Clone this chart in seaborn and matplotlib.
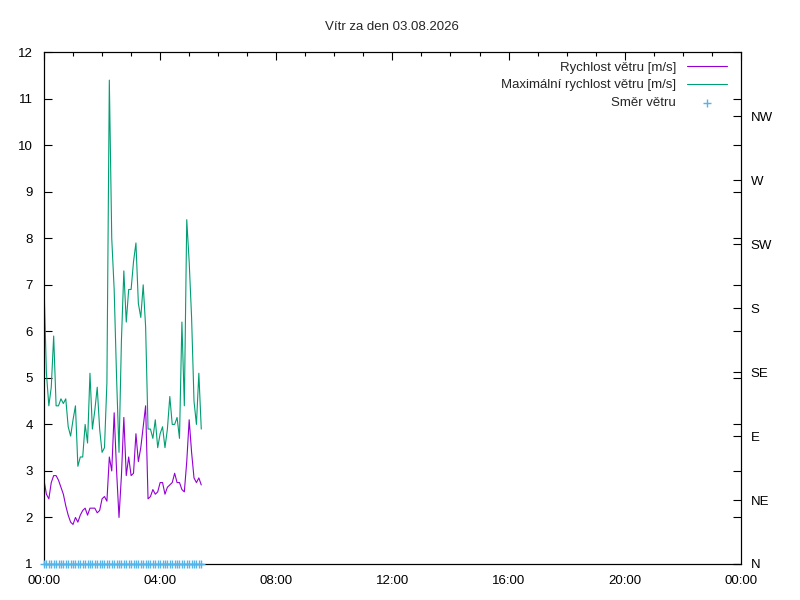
import pandas as pd
import matplotlib.pyplot as plt
import matplotlib.dates as mdates
import seaborn as sns

# 5-minute samples from midnight
times = pd.date_range("2026-08-03 00:00", periods=66, freq="5min")

speed = [2.8, 2.5, 2.4, 2.75, 2.9, 2.9, 2.8, 2.65, 2.5, 2.25,
         2.05, 1.9, 1.85, 2.0, 1.9, 2.05, 2.15, 2.2, 2.05, 2.2,
         2.2, 2.2, 2.1, 2.15, 2.4, 2.45, 2.35, 3.3, 3.0, 4.25,
         3.0, 2.0, 2.9, 4.15, 2.9, 3.3, 2.9, 2.95, 3.8, 3.2,
         3.5, 3.95, 4.4, 2.4, 2.45, 2.6, 2.5, 2.55, 2.75, 2.75,
         2.5, 2.65, 2.7, 2.75, 2.95, 2.75, 2.75, 2.6, 2.55, 3.2,
         4.1, 3.4, 2.85, 2.75, 2.85, 2.7]

gust = [7.0, 5.1, 4.4, 4.8, 5.9, 4.4, 4.4, 4.55, 4.45, 4.55,
        3.95, 3.75, 4.1, 4.4, 3.1, 3.3, 3.3, 4.0, 3.6, 5.1,
        3.9, 4.3, 4.8, 3.9, 3.4, 3.5, 4.9, 11.4, 8.0, 6.9,
        5.0, 3.4, 5.8, 7.3, 6.2, 6.9, 6.9, 7.5, 7.9, 6.6,
        6.3, 7.0, 6.1, 3.9, 3.9, 3.7, 4.1, 3.5, 3.8, 3.95,
        3.5, 3.9, 4.6, 4.0, 4.0, 4.15, 3.7, 6.2, 4.4, 8.4,
        7.5, 6.3, 4.5, 4.0, 5.1, 3.9]

direction = [0, 0, 0, 0, 0, 0, 0, 0, 0, 0,
             0, 0, 0, 0, 0, 0, 0, 0, 0, 0,
             0, 0, 0, 0, 0, 0, 0, 0, 0, 0,
             0, 0, 0, 0, 0, 0, 0, 0, 0, 0,
             0, 0, 0, 0, 0, 0, 0, 0, 0, 0,
             0, 0, 0, 0, 0, 0, 0, 0, 0, 0,
             0, 0, 0, 0, 0, 0]

dir_ticks = [0, 45, 90, 135, 180, 225, 270, 315]
dir_labels = ["N", "NE", "E", "SE", "S", "SW", "W", "NW"]

df = pd.DataFrame({"time": times, "speed": speed, "gust": gust, "direction": direction})

sns.set_style("white")
plt.rcParams["font.family"] = ["Liberation Sans", "DejaVu Sans"]
plt.rcParams["font.size"] = 9.5

fig = plt.figure(figsize=(8, 6), dpi=100)
ax = fig.add_axes([0.055, 0.06, 0.871, 0.853])

sns.lineplot(data=df, x="time", y="speed", ax=ax, color="#9400d3", linewidth=0.8,
             label="Rychlost větru [m/s]")
sns.lineplot(data=df, x="time", y="gust", ax=ax, color="#009e73", linewidth=0.8,
             label="Maximální rychlost větru [m/s]")

ax2 = ax.twinx()
sns.scatterplot(data=df, x="time", y="direction", ax=ax2, marker="+", s=30,
                color="#56b4e9", linewidth=1, clip_on=False, label="Směr větru", zorder=5)

ax.set_xlim(pd.Timestamp("2026-08-03 00:00"), pd.Timestamp("2026-08-04 00:00"))
ax.set_ylim(1, 12)
ax.set_yticks(range(1, 13))
ax2.set_ylim(0, 360)
ax2.set_yticks(dir_ticks)
ax2.set_yticklabels(dir_labels)

ax.xaxis.set_major_locator(mdates.HourLocator(byhour=range(0, 24, 4)))
ax.xaxis.set_minor_locator(mdates.HourLocator())
ax.xaxis.set_major_formatter(mdates.DateFormatter("%H:%M"))

ax.set_xlabel("")
ax.set_ylabel("")
ax2.set_xlabel("")
ax2.set_ylabel("")

ax.tick_params(axis="both", which="both", direction="in", top=True, right=True,
               colors="black", labelsize=9.5)
ax.tick_params(which="major", length=6, width=0.8, pad=8)
ax.tick_params(which="minor", length=3, width=0.8)
ax2.tick_params(axis="y", direction="in", length=6, width=0.8, pad=7, labelsize=9.5,
                colors="black", left=False)

for a in (ax, ax2):
    for sp in a.spines.values():
        sp.set_color("black")
        sp.set_linewidth(0.8)

ax.set_title("Vítr za den 03.08.2026", fontsize=9.5, pad=16)

h1, l1 = ax.get_legend_handles_labels()
h2, l2 = ax2.get_legend_handles_labels()
if ax.get_legend() is not None:
    ax.get_legend().remove()
if ax2.get_legend() is not None:
    ax2.get_legend().remove()
ax2.legend(h1 + h2, l1 + l2, loc="upper right", bbox_to_anchor=(0.993, 1.0),
           markerfirst=False, frameon=False, fontsize=9.5, handlelength=3.0,
           handletextpad=0.83, labelspacing=0.42, borderaxespad=0.3, borderpad=0.4)

fig.savefig("out.png", dpi=100)
